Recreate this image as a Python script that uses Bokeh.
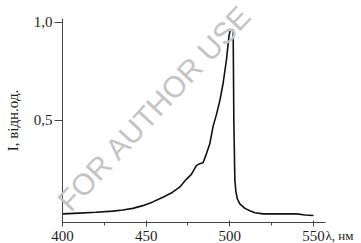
from bokeh.plotting import figure
from bokeh.models import FixedTicker, CustomJSTickFormatter, Range1d, Label
from bokeh.embed import file_html
from bokeh.resources import INLINE

# wavelength (nm) and relative intensity
wavelength = [400, 410, 420, 430, 436, 442, 448, 454, 460, 465, 470, 474, 477,
              480, 482, 484, 486, 488, 490, 492, 494, 496, 498, 499.5, 500.3,
              502.0, 502.4, 503.0, 503.6, 504.5, 506, 509, 512, 515, 520, 530,
              540, 545, 550]
intensity = [0.024, 0.028, 0.032, 0.038, 0.044, 0.052, 0.066, 0.085, 0.109,
             0.13, 0.16, 0.20, 0.225, 0.27, 0.28, 0.285, 0.33, 0.38, 0.47, 0.53,
             0.60, 0.69, 0.81, 0.93, 0.962, 0.962, 0.50, 0.20, 0.14, 0.10,
             0.075, 0.052, 0.04, 0.03, 0.024, 0.024, 0.024, 0.018, 0.016]

x_ticks = [400, 450, 500, 550]
x_minor = [425, 475, 525]
y_ticks = [0.5, 1.0]
x_bounds = (400, 557)
y_bounds = (-0.02, 1.02)
x_title = "λ, нм"
y_title = "I, відн.од."
watermark = "FOR AUTHOR USE"

SERIF = "Liberation Serif"
TXT = "#1e1e1e"

# the frame fills the whole canvas; the axes sit at fixed places inside it
p = figure(width=361, height=243, output_backend="svg", toolbar_location=None,
           x_range=Range1d(362.95, 578.7), y_range=Range1d(-0.1271, 1.1118),
           min_border=0)
p.outline_line_color = None
p.grid.visible = False
p.background_fill_color = "white"

# watermark
p.add_layout(Label(x=455, y=0.565, text=watermark, angle=47, angle_units="deg",
                   text_align="center", text_baseline="middle",
                   text_font="Liberation Sans", text_font_size="30px",
                   text_color="#c4c4c4"))

p.line(wavelength, intensity, line_color="#111111", line_width=1.6)

xa = p.xaxis[0]
xa.fixed_location = y_bounds[0]
xa.bounds = x_bounds
xa.ticker = FixedTicker(ticks=x_ticks, minor_ticks=x_minor)
xa.axis_line_color = "#444444"
xa.major_tick_line_color = "#444444"
xa.minor_tick_line_color = "#444444"
xa.major_tick_in = 2
xa.major_tick_out = 4
xa.minor_tick_in = 0
xa.minor_tick_out = 3
xa.major_label_standoff = 5
xa.major_label_text_font = SERIF
xa.major_label_text_font_size = "15px"
xa.major_label_text_color = TXT

ya = p.yaxis[0]
ya.fixed_location = x_bounds[0]
ya.bounds = y_bounds
ya.ticker = FixedTicker(ticks=y_ticks)
ya.formatter = CustomJSTickFormatter(code="return tick.toFixed(1).replace('.', ',');")
ya.axis_line_color = "#444444"
ya.major_tick_line_color = "#444444"
ya.major_tick_in = 0
ya.major_tick_out = 8
ya.minor_tick_line_color = None
ya.major_label_standoff = 2
ya.major_label_text_font = SERIF
ya.major_label_text_font_size = "15px"
ya.major_label_text_color = TXT
ya.axis_label = y_title
ya.axis_label_text_font = SERIF
ya.axis_label_text_font_style = "normal"
ya.axis_label_text_font_size = "15px"
ya.axis_label_text_color = TXT
ya.axis_label_standoff = 10

p.add_layout(Label(x=557.2, y=-0.085, text=x_title,
                   text_align="left", text_baseline="middle",
                   text_font=SERIF, text_font_size="13px", text_color=TXT))

open("out.html", "w").write(file_html(p, INLINE))
